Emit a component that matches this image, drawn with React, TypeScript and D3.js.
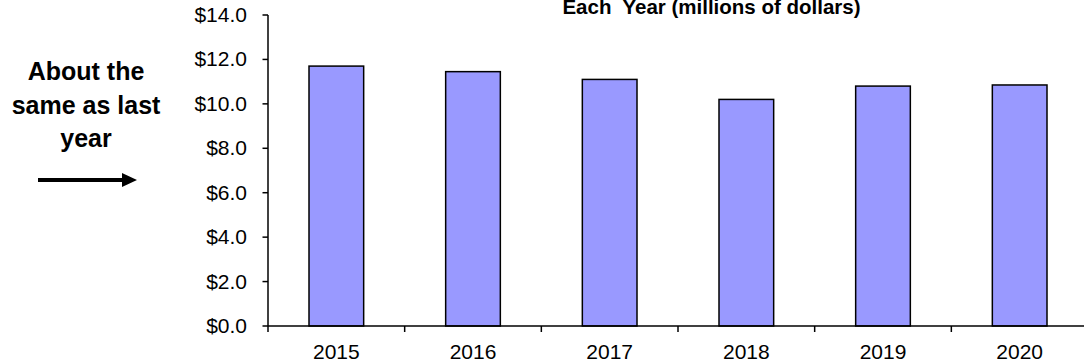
import React from "react";
import * as d3 from "d3";

// Annual totals, millions of dollars
const years: string[] = ["2015", "2016", "2017", "2018", "2019", "2020"];
const totals: number[] = [11.7, 11.45, 11.1, 10.2, 10.8, 10.85];
const yTicks: number[] = [0, 2, 4, 6, 8, 10, 12, 14];
const titleLine = "Each  Year (millions of dollars)";
const noteLines: string[] = ["About the", "same as last", "year"];

const W = 1084;
const H = 364;
const FONT = "'Liberation Sans', Arial, Helvetica, sans-serif";

export default function App() {
  const pad = 0.6;
  const x = d3
    .scaleBand<string>()
    .domain(years)
    .range([268, 1088])
    .paddingInner(pad)
    .paddingOuter(pad / 2);
  const y = d3.scaleLinear().domain([0, 14]).range([326, 15]);
  const step = x.step();
  const x0 = x.range()[0];
  const y0 = y(0);
  const fmt = (v: number) => "$" + d3.format(".1f")(v);

  return (
    <svg
      width={W}
      height={H}
      viewBox={`0 0 ${W} ${H}`}
      style={{ position: "absolute", left: 0, top: 0, background: "#fff" }}
      fontFamily={FONT}
    >
      {/* title (continuation line) */}
      <text
        x={711.5}
        y={13.5}
        textAnchor="middle"
        fontSize={20.5}
        fontWeight="bold"
        fill="#000"
        style={{ whiteSpace: "pre" }}
      >
        {titleLine}
      </text>

      {/* bars */}
      {years.map((yr, i) => (
        <rect
          key={yr}
          x={x(yr)}
          y={y(totals[i])}
          width={x.bandwidth()}
          height={y0 - y(totals[i])}
          fill="#9999FF"
          stroke="#000"
          strokeWidth={1.5}
        />
      ))}

      {/* y axis */}
      <line x1={x0} x2={x0} y1={y(14)} y2={y0} stroke="#000" strokeWidth={1.5} />
      {yTicks.map((t) => (
        <g key={t}>
          <line x1={x0 - 5.5} x2={x0} y1={y(t)} y2={y(t)} stroke="#000" strokeWidth={1.5} />
          <text x={247} y={y(t) + 7} textAnchor="end" fontSize={21} fill="#000">
            {fmt(t)}
          </text>
        </g>
      ))}

      {/* x axis */}
      <line x1={x0} x2={W} y1={y0} y2={y0} stroke="#000" strokeWidth={1.5} />
      {d3.range(years.length + 1).map((k) => (
        <line
          key={k}
          x1={x0 + k * step}
          x2={x0 + k * step}
          y1={y0}
          y2={y0 + 6}
          stroke="#000"
          strokeWidth={1.5}
        />
      ))}
      {years.map((yr) => (
        <text
          key={yr}
          x={(x(yr) ?? 0) + x.bandwidth() / 2}
          y={358.5}
          textAnchor="middle"
          fontSize={21}
          fill="#000"
        >
          {yr}
        </text>
      ))}

      {/* side note with arrow */}
      {noteLines.map((ln, i) => (
        <text
          key={ln}
          x={86}
          y={80 + i * 33.5}
          textAnchor="middle"
          fontSize={25}
          fontWeight="bold"
          fill="#000"
        >
          {ln}
        </text>
      ))}
      <line x1={38} x2={124} y1={180} y2={180} stroke="#000" strokeWidth={4} />
      <path d="M122,173 L137,180 L122,187 Z" fill="#000" />
    </svg>
  );
}
